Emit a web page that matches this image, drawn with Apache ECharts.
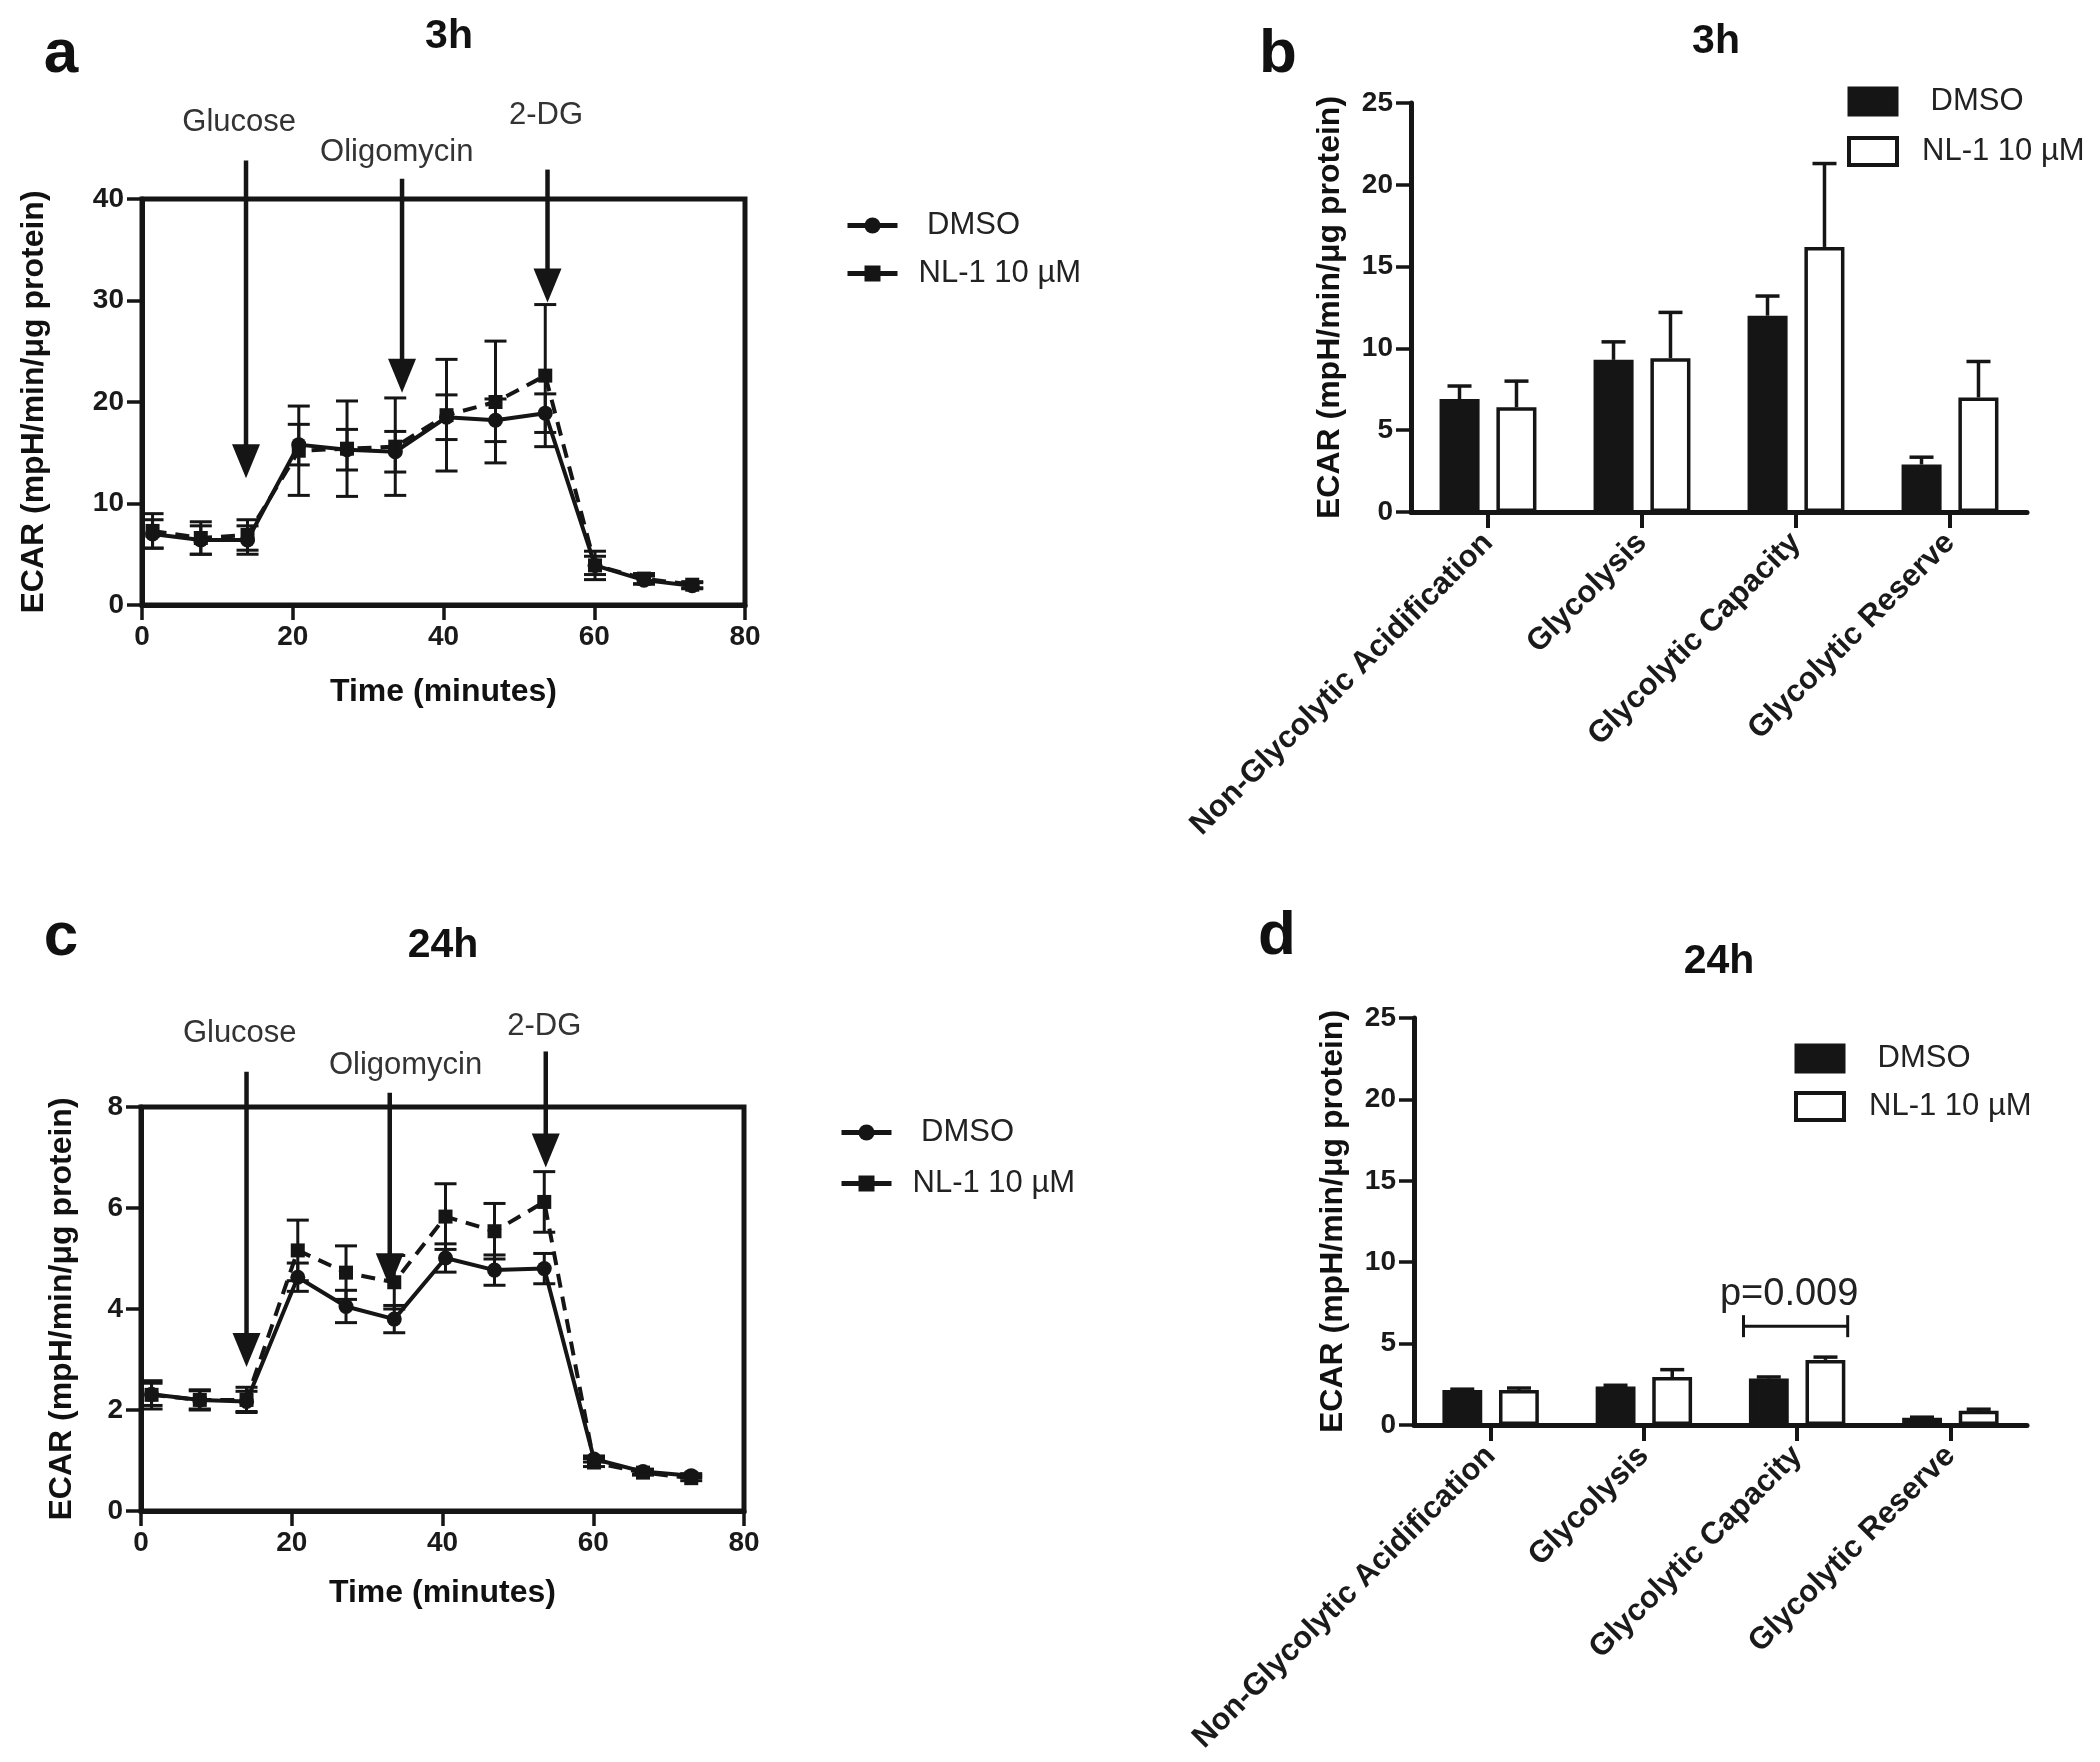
<!DOCTYPE html>
<html><head><meta charset="utf-8">
<script src="https://cdn.jsdelivr.net/npm/echarts@6/dist/echarts.min.js"></script>
<style>html,body{margin:0;padding:0;background:#fff}#c{width:2100px;height:1762px}</style>
</head><body><div id="c"></div>
<script>
// ---------- data ----------
const times = [1.4, 7.8, 14.0, 20.8, 27.2, 33.6, 40.4, 46.9, 53.5, 60.1, 66.6, 73.0];
const dmso3h    = [7.0, 6.4, 6.4, 15.8, 15.3, 15.1, 18.5, 18.2, 18.9, 3.9, 2.45, 1.9];
const dmso3hErr = [1.4, 1.4, 1.4, 2.0, 2.0, 2.0, 2.2, 2.1, 1.9, 0.9, 0.4, 0.3];
const nl3h      = [7.3, 6.6, 6.9, 15.2, 15.4, 15.6, 18.7, 20.0, 22.6, 3.9, 2.6, 2.0];
const nl3hErr   = [1.7, 1.6, 1.5, 4.4, 4.7, 4.8, 5.5, 6.0, 7.0, 1.4, 0.5, 0.3];

const dmso24    = [2.31, 2.2, 2.17, 4.63, 4.05, 3.8, 5.01, 4.77, 4.8, 1.03, 0.78, 0.7];
const dmso24Err = [0.22, 0.18, 0.2, 0.28, 0.32, 0.27, 0.28, 0.3, 0.3, 0.06, 0.05, 0.04];
const nl24      = [2.3, 2.2, 2.2, 5.16, 4.72, 4.53, 5.83, 5.54, 6.12, 0.96, 0.76, 0.65];
const nl24Err   = [0.28, 0.2, 0.25, 0.6, 0.53, 0.53, 0.65, 0.55, 0.6, 0.08, 0.05, 0.05];

const categories = ['Non-Glycolytic Acidification', 'Glycolysis', 'Glycolytic Capacity', 'Glycolytic Reserve'];
const dmsoBar3h    = [6.9, 9.3, 12.0, 2.9];
const dmsoBar3hErr = [0.8, 1.1, 1.2, 0.45];
const nlBar3h      = [6.4, 9.4, 16.2, 7.0];
const nlBar3hErr   = [1.6, 2.8, 5.1, 2.2];
const dmsoBar24    = [2.15, 2.36, 2.85, 0.45];
const dmsoBar24Err = [0.05, 0.08, 0.1, 0.03];
const nlBar24      = [2.15, 2.95, 4.0, 0.87];
const nlBar24Err   = [0.12, 0.45, 0.17, 0.1];

const injectionLabels = ['Glucose', 'Oligomycin', '2-DG'];
// [injection time, arrow start value, arrow tip value, label time, label value]
const arrows3h = [[13.8, 43.8, 12.5, 12.9, 47.5], [34.5, 42.0, 20.9, 33.8, 44.6], [53.8, 42.9, 29.8, 53.6, 48.2]];
const arrows24 = [[14.0, 8.7, 2.85, 13.1, 9.45], [33.0, 8.28, 4.43, 35.1, 8.83], [53.7, 9.1, 6.8, 53.5, 9.6]];
const pValue = [[2, 6.07, 8.0, 'p=0.009']];

// ---------- helpers ----------
const INK = '#151515';
const FONT = '"Liberation Sans",Arial,sans-serif';

function zip3(a, b, c) { return a.map((v, i) => [v, b[i], c[i]]); }

function lineErrRender(params, api) {
  const x = api.value(0), y = api.value(1), e = api.value(2);
  const t = api.coord([x, y + e]), b = api.coord([x, y - e]);
  const cap = 11, st = { stroke: INK, lineWidth: 3 };
  return { type: 'group', children: [
    { type: 'line', shape: { x1: t[0], y1: t[1], x2: b[0], y2: b[1] }, style: st },
    { type: 'line', shape: { x1: t[0] - cap, y1: t[1], x2: t[0] + cap, y2: t[1] }, style: st },
    { type: 'line', shape: { x1: b[0] - cap, y1: b[1], x2: b[0] + cap, y2: b[1] }, style: st }
  ]};
}
function barErrRender(offset) {
  return function (params, api) {
    const c = api.value(0), y = api.value(1), e = api.value(2);
    const band = api.size([1, 0])[0];
    const p0 = api.coord([c, y]), p1 = api.coord([c, y + e]);
    const x = p0[0] + offset * band, cap = 12, st = { stroke: INK, lineWidth: 3.5 };
    return { type: 'group', children: [
      { type: 'line', shape: { x1: x, y1: p0[1], x2: x, y2: p1[1] }, style: st },
      { type: 'line', shape: { x1: x - cap, y1: p1[1], x2: x + cap, y2: p1[1] }, style: st }
    ]};
  };
}
function arrowRender(params, api) {
  const t = api.value(0), y0 = api.value(1), y1 = api.value(2), lt = api.value(3), ly = api.value(4);
  const p0 = api.coord([t, y0]), p1 = api.coord([t, y1]), pl = api.coord([lt, ly]);
  const head = 34, hw = 14;
  return { type: 'group', children: [
    { type: 'line', shape: { x1: p0[0], y1: p0[1], x2: p1[0], y2: p1[1] - head + 4 }, style: { stroke: INK, lineWidth: 4.5 } },
    { type: 'polygon', shape: { points: [[p1[0] - hw, p1[1] - head], [p1[0] + hw, p1[1] - head], [p1[0], p1[1]]] }, style: { fill: INK } },
    { type: 'text', x: pl[0], y: pl[1], style: { text: injectionLabels[params.dataIndex], font: '31px ' + FONT, fill: '#333', align: 'center', verticalAlign: 'middle' } }
  ]};
}
function pRender(params, api) {
  const c = api.value(0), y = api.value(1), ty = api.value(2);
  const band = api.size([1, 0])[0];
  const p = api.coord([c, y]), pt = api.coord([c, ty]);
  const xl = p[0] - 0.35 * band, xr = p[0] + 0.33 * band, st = { stroke: INK, lineWidth: 3 };
  return { type: 'group', children: [
    { type: 'line', shape: { x1: xl, y1: p[1], x2: xr, y2: p[1] }, style: st },
    { type: 'line', shape: { x1: xl, y1: p[1] - 11, x2: xl, y2: p[1] + 11 }, style: st },
    { type: 'line', shape: { x1: xr, y1: p[1] - 11, x2: xr, y2: p[1] + 11 }, style: st },
    { type: 'text', x: p[0] - 8, y: pt[1], style: { text: pValue[params.dataIndex][3], font: '38px ' + FONT, fill: '#222', align: 'center', verticalAlign: 'middle' } }
  ]};
}

function valueAxis(gi, min, max, interval, opts) {
  return Object.assign({
    type: 'value', gridIndex: gi, min: min, max: max, interval: interval,
    axisLine: { show: true, lineStyle: { color: INK, width: 5 } },
    axisTick: { show: true, inside: false, length: 15, lineStyle: { color: INK, width: 3.5 } },
    axisLabel: { color: '#1a1a1a', fontSize: 28, fontWeight: 'bold', fontFamily: FONT, margin: 18 },
    splitLine: { show: false },
    nameTextStyle: { color: '#111', fontSize: 32, fontWeight: 'bold', fontFamily: FONT }
  }, opts || {});
}
function catAxis(gi) {
  return {
    type: 'category', gridIndex: gi, data: categories,
    axisLine: { show: true, lineStyle: { color: INK, width: 5 } },
    axisTick: { show: true, alignWithLabel: true, length: 16, lineStyle: { color: INK, width: 4 } },
    axisLabel: { rotate: 45, interval: 0, color: '#1a1a1a', fontSize: 31, fontWeight: 'bold', fontFamily: FONT, margin: 26 }
  };
}
const yName = 'ECAR (mpH/min/\u03bcg protein)';

function lineSeries(name, data, xi, dashed) {
  return {
    type: 'line', name: name, xAxisIndex: xi, yAxisIndex: xi,
    data: times.map((t, i) => [t, data[i]]),
    symbol: dashed ? 'rect' : 'circle', symbolSize: dashed ? 14 : 15,
    itemStyle: { color: INK },
    lineStyle: { color: INK, width: 4, type: dashed ? [14, 9] : 'solid' },
    z: 3
  };
}
function errSeries(data, err, xi) {
  return { type: 'custom', xAxisIndex: xi, yAxisIndex: xi, renderItem: lineErrRender,
    data: zip3(times, data, err), encode: { x: 0, y: 1 }, z: 4, silent: true };
}
function barSeries(name, data, gi, filled) {
  return { type: 'bar', name: name, xAxisIndex: gi, yAxisIndex: gi, data: data,
    barWidth: '26%', barGap: '42%',
    itemStyle: { color: filled ? INK : '#fff', borderColor: INK, borderWidth: 3.5 } };
}
function barErrSeries(data, err, gi, offset) {
  return { type: 'custom', xAxisIndex: gi, yAxisIndex: gi, renderItem: barErrRender(offset),
    data: data.map((v, i) => [i, v, err[i]]), encode: { x: 0, y: 1 }, z: 1, silent: true };
}

const lineLegend = (left, top, gap) => ({
  orient: 'vertical', left: left, top: top, itemWidth: 50, itemHeight: 20, itemGap: gap,
  data: [
    { name: 'DMSO', lineStyle: { type: 'solid', width: 5 } },
    { name: 'NL-1 10 µM', lineStyle: { type: 'solid', width: 5 } }
  ],
  formatter: n => n === 'DMSO' ? ' DMSO' : n,
  textStyle: { fontSize: 31, color: '#222', fontFamily: FONT, padding: [0, 0, 0, 16] }
});
const barLegend = (left, top, gap) => ({
  orient: 'vertical', left: left, top: top, itemWidth: 48, itemHeight: 27, itemGap: gap,
  data: [
    { name: 'DMSO', icon: 'rect', itemStyle: { color: INK, borderColor: INK, borderWidth: 3 } },
    { name: 'NL-1 10 µM', icon: 'rect', itemStyle: { color: '#fff', borderColor: INK, borderWidth: 4 } }
  ],
  formatter: n => n === 'DMSO' ? ' DMSO' : n,
  textStyle: { fontSize: 31, color: '#222', fontFamily: FONT, padding: [0, 0, 0, 20] }
});

const txt = (x, y, s, size) => ({ type: 'text', x: x, y: y,
  style: { text: s, font: 'bold ' + size + 'px ' + FONT, fill: '#111', align: 'center', verticalAlign: 'middle' } });

const option = {
  backgroundColor: '#fff',
  animation: false,
  graphic: [
    txt(61, 55, 'a', 62), txt(449, 37, '3h', 41),
    txt(1278, 55, 'b', 62), txt(1716, 42, '3h', 41),
    txt(61, 938, 'c', 62), txt(443, 946, '24h', 41),
    txt(1277, 937, 'd', 62), txt(1719, 962, '24h', 41)
  ],
  legend: [
    lineLegend(840, 205, 17), lineLegend(834, 1112, 20),
    barLegend(1842, 81, 19), barLegend(1789, 1038, 17)
  ],
  grid: [
    { left: 142, top: 199, width: 603, height: 406, show: true, borderColor: INK, borderWidth: 5 },
    { left: 1411, top: 103, width: 616, height: 409 },
    { left: 141, top: 1107, width: 603, height: 404, show: true, borderColor: INK, borderWidth: 5 },
    { left: 1414, top: 1018, width: 613, height: 407 }
  ],
  xAxis: [
    valueAxis(0, 0, 80, 20, { name: 'Time (minutes)', nameLocation: 'middle', nameGap: 71 }),
    catAxis(1),
    valueAxis(2, 0, 80, 20, { name: 'Time (minutes)', nameLocation: 'middle', nameGap: 66 }),
    catAxis(3)
  ],
  yAxis: [
    valueAxis(0, 0, 40, 10, { name: yName, nameLocation: 'middle', nameGap: 92 }),
    valueAxis(1, 0, 25, 5, { name: yName, nameLocation: 'middle', nameGap: 65 }),
    valueAxis(2, 0, 8, 2, { name: yName, nameLocation: 'middle', nameGap: 63 }),
    valueAxis(3, 0, 25, 5, { name: yName, nameLocation: 'middle', nameGap: 65 })
  ],
  series: [
    lineSeries('DMSO', dmso3h, 0, false),
    lineSeries('NL-1 10 µM', nl3h, 0, true),
    errSeries(dmso3h, dmso3hErr, 0),
    errSeries(nl3h, nl3hErr, 0),
    { type: 'custom', xAxisIndex: 0, yAxisIndex: 0, renderItem: arrowRender, data: arrows3h, encode: { x: 0, y: 1 }, clip: false, z: 5, silent: true },

    lineSeries('DMSO', dmso24, 2, false),
    lineSeries('NL-1 10 µM', nl24, 2, true),
    errSeries(dmso24, dmso24Err, 2),
    errSeries(nl24, nl24Err, 2),
    { type: 'custom', xAxisIndex: 2, yAxisIndex: 2, renderItem: arrowRender, data: arrows24, encode: { x: 0, y: 1 }, clip: false, z: 5, silent: true },

    barErrSeries(dmsoBar3h, dmsoBar3hErr, 1, -0.185),
    barErrSeries(nlBar3h, nlBar3hErr, 1, 0.185),
    barSeries('DMSO', dmsoBar3h, 1, true),
    barSeries('NL-1 10 µM', nlBar3h, 1, false),

    barErrSeries(dmsoBar24, dmsoBar24Err, 3, -0.185),
    barErrSeries(nlBar24, nlBar24Err, 3, 0.185),
    barSeries('DMSO', dmsoBar24, 3, true),
    barSeries('NL-1 10 µM', nlBar24, 3, false),
    { type: 'custom', xAxisIndex: 3, yAxisIndex: 3, renderItem: pRender, data: pValue.map(p => [p[0], p[1], p[2]]), encode: { x: 0, y: 1 }, clip: false, z: 5, silent: true }
  ]
};
const chart = echarts.init(document.getElementById('c'), null, { renderer: 'canvas' });
chart.setOption(option);
</script></body></html>
